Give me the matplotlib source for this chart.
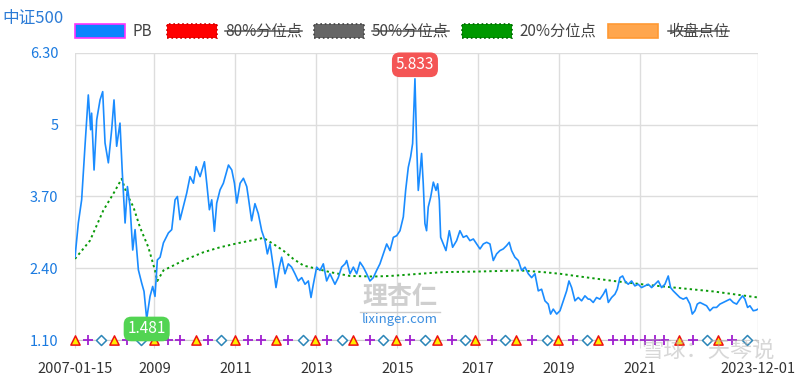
import matplotlib
matplotlib.use("Agg")
import matplotlib.pyplot as plt
import pandas as pd
from matplotlib.patches import Rectangle
from matplotlib.lines import Line2D

plt.rcParams['font.family'] = ['Noto Sans CJK SC', 'DejaVu Sans']

# ---------------- data ----------------
title = "中证500"
legend_labels = ["PB", "80%分位点", "50%分位点", "20%分位点", "收盘点位"]
legend_active = [True, False, False, True, False]

pb_dates = [
    "2007-01-15", "2007-02-14", "2007-03-16", "2007-04-15", "2007-05-15", "2007-06-05",
    "2007-06-14", "2007-07-06", "2007-07-30", "2007-08-29", "2007-09-22", "2007-10-13",
    "2007-11-12", "2007-12-12", "2008-01-02", "2008-01-26", "2008-02-25", "2008-03-17",
    "2008-04-11", "2008-05-02", "2008-05-26", "2008-06-19", "2008-07-10", "2008-08-09",
    "2008-09-08", "2008-09-29", "2008-10-23", "2008-11-22", "2008-12-16", "2009-01-06",
    "2009-01-27", "2009-02-21", "2009-03-23", "2009-05-07", "2009-06-06", "2009-07-06",
    "2009-07-27", "2009-08-20", "2009-09-19", "2009-10-19", "2009-11-18", "2009-12-19",
    "2010-01-12", "2010-02-17", "2010-03-28", "2010-04-18", "2010-05-12", "2010-06-02",
    "2010-06-26", "2010-07-17", "2010-08-16", "2010-09-15", "2010-10-31", "2010-11-30",
    "2010-12-24", "2011-01-14", "2011-02-13", "2011-03-15", "2011-04-14", "2011-04-28",
    "2011-05-28", "2011-06-27", "2011-07-27", "2011-08-27", "2011-09-26", "2011-10-17",
    "2011-11-10", "2011-12-10", "2012-01-03", "2012-02-02", "2012-02-23", "2012-03-24",
    "2012-04-23", "2012-05-23", "2012-06-22", "2012-07-22", "2012-08-22", "2012-09-21",
    "2012-10-21", "2012-11-14", "2012-12-05", "2013-01-04", "2013-02-03", "2013-03-05",
    "2013-04-04", "2013-05-04", "2013-06-18", "2013-07-18", "2013-08-17", "2013-09-17",
    "2013-10-02", "2013-11-01", "2013-12-01", "2013-12-31", "2014-01-30", "2014-03-01",
    "2014-03-31", "2014-04-30", "2014-05-30", "2014-06-29", "2014-07-29", "2014-08-28",
    "2014-09-28", "2014-10-28", "2014-11-27", "2014-12-27", "2015-01-26", "2015-02-25",
    "2015-03-18", "2015-04-11", "2015-05-02", "2015-05-20", "2015-06-10", "2015-06-25",
    "2015-07-10", "2015-07-25", "2015-08-09", "2015-08-24", "2015-09-08", "2015-09-23",
    "2015-10-08", "2015-10-30", "2015-11-23", "2015-12-17", "2016-01-01", "2016-01-16",
    "2016-01-28", "2016-02-21", "2016-03-16", "2016-04-15", "2016-05-15", "2016-06-20",
    "2016-07-20", "2016-08-19", "2016-09-18", "2016-10-18", "2016-11-18", "2016-12-18",
    "2017-01-17", "2017-02-16", "2017-03-18", "2017-04-17", "2017-05-17", "2017-06-16",
    "2017-07-16", "2017-08-15", "2017-09-14", "2017-10-08", "2017-10-29", "2017-11-28",
    "2017-12-29", "2018-01-28", "2018-02-27", "2018-03-29", "2018-04-28", "2018-05-28",
    "2018-06-27", "2018-07-27", "2018-08-26", "2018-09-25", "2018-10-16", "2018-11-09",
    "2018-12-10", "2019-01-09", "2019-02-08", "2019-03-10", "2019-03-31", "2019-04-24",
    "2019-05-24", "2019-06-23", "2019-07-23", "2019-08-22", "2019-09-21", "2019-10-06",
    "2019-11-05", "2019-12-05", "2020-01-04", "2020-02-04", "2020-02-28", "2020-03-20",
    "2020-04-19", "2020-05-19", "2020-06-09", "2020-07-03", "2020-07-27", "2020-08-17",
    "2020-09-16", "2020-10-16", "2020-11-15", "2020-12-15", "2021-01-14", "2021-02-14",
    "2021-03-16", "2021-04-15", "2021-05-15", "2021-06-14", "2021-07-14", "2021-08-13",
    "2021-09-12", "2021-10-03", "2021-10-27", "2021-11-26", "2021-12-26", "2022-01-25",
    "2022-02-24", "2022-03-27", "2022-04-17", "2022-05-11", "2022-06-01", "2022-06-25",
    "2022-07-25", "2022-08-24", "2022-09-23", "2022-10-23", "2022-11-22", "2022-12-22",
    "2023-01-21", "2023-02-21", "2023-03-23", "2023-04-22", "2023-05-22", "2023-06-21",
    "2023-07-15", "2023-08-05", "2023-08-29", "2023-09-19", "2023-10-19", "2023-11-12",
    "2023-12-01",
]
pb_values = [
    2.60, 3.22, 3.64, 4.61, 5.54, 4.91,
    5.21, 4.18, 5.09, 5.45, 5.60, 4.67,
    4.31, 4.91, 5.45, 4.61, 5.03, 4.13,
    3.22, 3.88, 3.52, 2.73, 3.10, 2.37,
    2.13, 1.98, 1.481, 1.89, 2.07, 1.89,
    2.55, 2.60, 2.86, 3.04, 3.10, 3.64,
    3.70, 3.28, 3.52, 3.76, 4.06, 3.94,
    4.24, 4.06, 4.33, 3.94, 3.46, 3.64,
    3.07, 3.58, 3.82, 3.94, 4.27, 4.18,
    3.94, 3.58, 3.94, 4.03, 3.88, 3.69,
    3.26, 3.57, 3.39, 3.08, 2.90, 2.66,
    2.84, 2.42, 2.05, 2.42, 2.60, 2.30,
    2.48, 2.42, 2.30, 2.17, 2.23, 2.11,
    2.17, 1.87, 2.11, 2.42, 2.36, 2.48,
    2.17, 2.30, 2.11, 2.23, 2.42, 2.48,
    2.54, 2.30, 2.42, 2.30, 2.51, 2.42,
    2.30, 2.17, 2.23, 2.36, 2.48, 2.66,
    2.84, 2.72, 2.96, 2.99, 3.08, 3.33,
    3.81, 4.23, 4.42, 4.66, 5.833, 4.66,
    3.81, 4.12, 4.48, 3.93, 3.21, 3.08,
    3.51, 3.69, 3.96, 3.81, 3.93, 3.63,
    2.96, 2.84, 2.72, 3.08, 2.78, 2.90,
    3.08, 2.96, 2.99, 2.90, 2.93, 2.84,
    2.75, 2.84, 2.87, 2.84, 2.54, 2.66,
    2.72, 2.75, 2.81, 2.87, 2.72, 2.60,
    2.54, 2.36, 2.42, 2.30, 2.23, 2.30,
    1.99, 2.02, 1.81, 1.75, 1.57, 1.66,
    1.57, 1.63, 1.81, 1.99, 2.17, 2.05,
    1.81, 1.87, 1.81, 1.90, 1.84, 1.84,
    1.78, 1.87, 1.84, 1.93, 2.02, 1.78,
    1.87, 1.93, 2.02, 2.23, 2.26, 2.17,
    2.11, 2.17, 2.08, 2.11, 2.05, 2.08,
    2.11, 2.05, 2.11, 2.17, 2.05, 2.11,
    2.26, 2.05, 1.99, 1.93, 1.87, 1.84,
    1.87, 1.75, 1.57, 1.63, 1.75, 1.78,
    1.75, 1.72, 1.63, 1.69, 1.69, 1.75,
    1.78, 1.81, 1.84, 1.78, 1.75, 1.84,
    1.90, 1.84, 1.69, 1.72, 1.63, 1.64,
    1.66,
]

p20_dates = [
    "2007-01-15", "2007-05-30", "2007-09-28", "2007-12-27", "2008-03-11", "2008-04-26",
    "2008-06-25", "2008-08-24", "2008-11-07", "2009-01-06", "2009-01-27", "2009-03-23",
    "2009-05-22", "2009-09-19", "2010-03-19", "2010-08-16", "2011-01-14", "2011-06-12",
    "2011-09-11", "2011-12-10", "2012-03-09", "2012-06-07", "2012-09-06", "2013-01-04",
    "2013-05-04", "2013-11-01", "2014-05-30", "2014-10-28", "2015-07-25", "2016-02-21",
    "2016-12-18", "2018-01-13", "2018-08-11", "2019-01-09", "2019-07-08", "2020-05-04",
    "2021-03-01", "2021-12-26", "2022-10-23", "2023-12-01",
]
p20_values = [
    2.57, 2.90, 3.45, 3.75, 4.02, 3.75,
    3.51, 3.14, 2.78, 2.36, 2.17, 2.36,
    2.42, 2.54, 2.69, 2.78, 2.85, 2.91,
    2.95, 2.84, 2.72, 2.57, 2.45, 2.39,
    2.33, 2.26, 2.25, 2.26, 2.30, 2.33,
    2.34, 2.36, 2.33, 2.30, 2.25, 2.17,
    2.10, 2.04, 1.98, 1.87,
]

max_date, max_value = "2015-06-10", 5.833
min_date, min_value = "2008-10-23", 1.481

triangle_dates = [
    "2007-01-15", "2008-01-02", "2008-12-30", "2010-01-08", "2010-12-29", "2011-12-31",
    "2012-12-20", "2013-11-30", "2014-12-18", "2015-12-23", "2016-12-02", "2017-12-08",
    "2018-12-18", "2019-12-14", "2021-12-17", "2022-12-07",
]
diamond_dates = [
    "2007-09-07", "2008-09-02", "2010-08-22", "2012-08-31", "2013-08-17", "2014-08-22",
    "2015-09-08", "2016-09-03", "2017-08-30", "2018-09-10", "2019-09-06", "2022-08-24",
    "2023-08-20",
]
plus_dates = [
    "2007-05-10", "2008-04-27", "2009-04-30", "2009-08-19", "2010-05-02", "2011-04-28",
    "2011-08-20", "2012-04-23", "2013-04-04", "2014-04-30", "2015-04-26", "2016-05-06",
    "2017-05-07", "2018-04-28", "2019-05-08", "2020-05-03", "2020-08-17", "2020-10-31",
    "2021-02-13", "2021-05-14", "2021-08-06", "2022-04-25", "2023-04-06",
]

ytick_values = [1.10, 2.40, 3.70, 5.00, 6.30]
ytick_labels = ["1.10", "2.40", "3.70", "5", "6.30"]
xtick_dates = ["2007-01-15", "2009-01-01", "2011-01-01", "2013-01-01", "2015-01-01",
               "2017-01-01", "2019-01-01", "2021-01-01", "2023-12-01"]
xtick_labels = ["2007-01-15", "2009", "2011", "2013", "2015", "2017", "2019", "2021", "2023-12-01"]

# ---------------- figure ----------------
W, H = 800, 375
fig = plt.figure(figsize=(W / 100, H / 100), dpi=100)
fig.patch.set_facecolor("white")


def fx(px):
    return px / W


def fy(py):
    return 1 - py / H


ax = fig.add_axes([fx(75), fy(340), fx(758) - fx(75), fy(53) - fy(340)])

pbd = pd.to_datetime(pb_dates)
p20d = pd.to_datetime(p20_dates)

BLUE = "#1a8cff"
GREEN = "#0a9a0a"

ax.plot(p20d, p20_values, color=GREEN, lw=1.4, ls=(0, (1.2, 1.6)), zorder=3)
ax.plot(pbd, pb_values, color=BLUE, lw=1.2, zorder=4)

base = ytick_values[0]
ax.scatter(pd.to_datetime(plus_dates), [base] * len(plus_dates), marker="+", s=50,
           color="#a020d0", linewidths=1.3, zorder=6, clip_on=False)
ax.scatter(pd.to_datetime(diamond_dates), [base] * len(diamond_dates), marker="D", s=26,
           facecolor="white", edgecolor="#2c86b8", linewidths=1.1, zorder=6, clip_on=False)
ax.scatter(pd.to_datetime(triangle_dates), [base] * len(triangle_dates), marker="^", s=44,
           facecolor="#ffee00", edgecolor="#ee1111", linewidths=1.1, zorder=6, clip_on=False)

xmin = pd.Timestamp(xtick_dates[0])
xmax = pd.Timestamp(xtick_dates[-1])
ax.set_xlim(xmin, xmax)
ax.set_ylim(ytick_values[0], ytick_values[-1])

ax.set_yticks(ytick_values)
ax.set_yticklabels(ytick_labels)
ax.set_xticks(pd.to_datetime(xtick_dates))
ax.set_xticklabels(xtick_labels)

ax.grid(True, color="#dddddd", lw=1)
ax.set_axisbelow(True)
for s in ["top", "right", "left"]:
    ax.spines[s].set_visible(False)
ax.spines["bottom"].set_color("#cccccc")
ax.tick_params(axis="y", length=0, pad=12, labelsize=10.5, labelcolor="#1a7ae0")
ax.tick_params(axis="x", length=6, color="#dddddd", pad=10, labelsize=10.5, labelcolor="#333333")

# max / min bubbles
ax.annotate("5.833", xy=(pd.Timestamp(max_date), max_value), xytext=(0, 14),
            textcoords="offset pixels", ha="center", va="center", color="white", fontsize=11,
            bbox=dict(boxstyle="round,pad=0.25,rounding_size=0.5", fc="#f45555", ec="none"),
            zorder=8)
ax.annotate("1.481", xy=(pd.Timestamp(min_date), min_value), xytext=(0, -10),
            textcoords="offset pixels", ha="center", va="center", color="white", fontsize=11,
            bbox=dict(boxstyle="round,pad=0.25,rounding_size=0.5", fc="#52d452", ec="none"),
            zorder=8, annotation_clip=False)

# title
fig.text(fx(2), fy(18), title, color="#2b7bd6", fontsize=12, ha="left", va="center")

# legend
legend_face = ["#0a84ff", "#ff0000", "#666666", "#009900", "#ffa64d"]
legend_edge = ["#ff33ff", "#cc0000", "#444444", "#006600", "#ff9933"]
legend_style = ["solid", ":", ":", ":", "solid"]
patch_x = [75, 167, 314, 462, 608]
text_x = [133, 225, 372, 519, 668]
for i, lab in enumerate(legend_labels):
    r = Rectangle((fx(patch_x[i]), fy(38)), fx(50), 14 / H, transform=fig.transFigure,
                  facecolor=legend_face[i], edgecolor=legend_edge[i], lw=1.2,
                  linestyle=legend_style[i])
    fig.patches.append(r)
    t = fig.text(fx(text_x[i]), fy(31), lab, color="#444444", fontsize=11,
                 ha="left", va="center")
    if not legend_active[i]:
        fig.canvas.draw()
        bb = t.get_window_extent()
        fig.lines.append(Line2D([bb.x0 / W, bb.x1 / W], [fy(31), fy(31)],
                                transform=fig.transFigure, color="#555555", lw=1.1))

# watermarks
fig.text(fx(400), fy(297), "理杏仁", color="#cfcfcf", fontsize=18, fontweight="bold",
         ha="center", va="center", zorder=1)
fig.lines.append(Line2D([fx(360), fx(440)], [fy(312), fy(312)], transform=fig.transFigure,
                        color="#cccccc", lw=1))
fig.text(fx(400), fy(320), "lixinger.com", color="#3d8fe0", fontsize=9.5,
         ha="center", va="center")
fig.text(fx(708), fy(350), "雪球：天琴说", color="#b0b0b0", fontsize=16, alpha=0.5,
         ha="center", va="center", zorder=10)

fig.savefig("out.png", dpi=100)
